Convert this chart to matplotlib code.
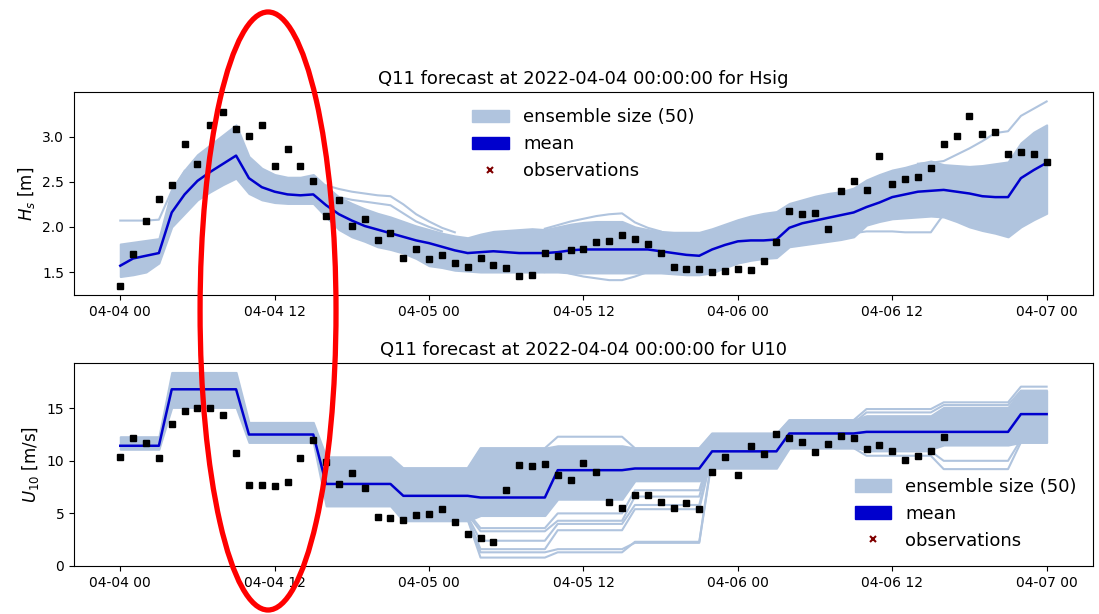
import matplotlib
matplotlib.use("Agg")
import matplotlib.pyplot as plt
import matplotlib.dates as mdates
from matplotlib.patches import Patch, Ellipse
from matplotlib.lines import Line2D
import numpy as np
import pandas as pd

START = pd.Timestamp("2022-04-04 00:00:00")
N_MEMBERS = 50

# ---- Hsig (hourly, 04-04 00 .. 04-07 00) ----
hs_hours = list(range(73))
hs_obs = [1.35, 1.70, 2.07, 2.31, 2.46, 2.92, 2.70, 3.13, 3.27, 3.08, 3.01, 3.13,
          2.68, 2.86, 2.67, 2.51, 2.12, 2.30, 2.01, 2.09, 1.86, 1.93, 1.65, 1.75,
          1.64, 1.69, 1.60, 1.56, 1.65, 1.58, 1.55, 1.46, 1.47, 1.71, 1.68, 1.74,
          1.75, 1.83, 1.84, 1.91, 1.87, 1.81, 1.71, 1.56, 1.53, 1.53, 1.50, 1.51,
          1.53, 1.52, 1.62, 1.83, 2.18, 2.14, 2.15, 1.98, 2.40, 2.51, 2.41, 2.79,
          2.48, 2.53, 2.55, 2.65, 2.92, 3.01, 3.23, 3.03, 3.05, 2.81, 2.83, 2.81,
          2.72]
hs_mean = [1.57, 1.65, 1.68, 1.71, 2.16, 2.36, 2.51, 2.61, 2.70, 2.79, 2.54, 2.44,
           2.39, 2.36, 2.35, 2.36, 2.24, 2.14, 2.07, 2.01, 1.97, 1.93, 1.89, 1.85,
           1.82, 1.78, 1.74, 1.71, 1.72, 1.73, 1.72, 1.71, 1.71, 1.71, 1.72, 1.74,
           1.75, 1.75, 1.75, 1.75, 1.75, 1.75, 1.73, 1.71, 1.69, 1.68, 1.75, 1.80,
           1.84, 1.85, 1.85, 1.86, 1.99, 2.04, 2.07, 2.10, 2.13, 2.16, 2.22, 2.27,
           2.33, 2.36, 2.39, 2.40, 2.41, 2.39, 2.37, 2.34, 2.33, 2.33, 2.54, 2.63,
           2.71]
# envelope of the bulk of the members
hs_upper = [1.81, 1.83, 1.85, 1.87, 2.41, 2.63, 2.80, 2.91, 3.02, 3.13, 2.78, 2.65,
            2.58, 2.55, 2.55, 2.58, 2.45, 2.33, 2.26, 2.20, 2.15, 2.11, 2.06, 2.01,
            1.97, 1.93, 1.90, 1.88, 1.92, 1.95, 1.96, 1.97, 1.98, 1.97, 2.00, 2.03,
            2.05, 2.06, 2.06, 2.06, 2.00, 1.97, 1.95, 1.94, 1.94, 1.94, 1.98, 2.03,
            2.08, 2.12, 2.15, 2.17, 2.26, 2.30, 2.34, 2.37, 2.39, 2.43, 2.52, 2.58,
            2.63, 2.66, 2.70, 2.73, 2.69, 2.68, 2.67, 2.68, 2.70, 2.72, 2.93, 3.05,
            3.13]
hs_lower = [1.45, 1.47, 1.50, 1.60, 2.00, 2.15, 2.30, 2.39, 2.47, 2.54, 2.37, 2.30,
            2.27, 2.26, 2.26, 2.26, 2.11, 1.97, 1.89, 1.84, 1.78, 1.75, 1.71, 1.65,
            1.57, 1.55, 1.52, 1.51, 1.50, 1.50, 1.50, 1.50, 1.50, 1.50, 1.50, 1.49,
            1.49, 1.49, 1.49, 1.49, 1.49, 1.49, 1.49, 1.48, 1.47, 1.47, 1.49, 1.55,
            1.60, 1.63, 1.65, 1.66, 1.78, 1.80, 1.82, 1.84, 1.86, 1.89, 2.02, 2.06,
            2.09, 2.10, 2.11, 2.12, 2.11, 2.06, 2.00, 1.96, 1.93, 1.89, 2.00, 2.08,
            2.15]
# members that leave the bulk: (hours, values)
hs_outliers = [
    ([0, 1, 2, 3, 4, 5], [2.07, 2.07, 2.07, 2.08, 2.40, 2.62]),
    (list(range(16, 27)), [2.46, 2.42, 2.39, 2.37, 2.35, 2.34, 2.25, 2.14, 2.06, 1.99, 1.94]),
    (list(range(17, 26)), [2.33, 2.30, 2.28, 2.26, 2.24, 2.15, 2.06, 2.00, 1.95]),
    (list(range(33, 43)), [1.98, 2.02, 2.06, 2.09, 2.12, 2.14, 2.15, 2.05, 1.99, 1.95]),
    (list(range(33, 42)), [1.50, 1.52, 1.48, 1.45, 1.43, 1.41, 1.41, 1.45, 1.50]),
    (list(range(56, 65)), [1.90, 1.93, 1.95, 1.95, 1.95, 1.94, 1.94, 1.94, 2.14]),
    (list(range(62, 73)), [2.70, 2.71, 2.73, 2.80, 2.87, 2.95, 3.04, 3.06, 3.23, 3.31, 3.39]),
]

# ---- U10 (6-hourly values, held then ramped over one hour) ----
u_knots = [0, 3, 4, 9, 10, 15, 16, 21, 22, 27, 28, 33, 34, 39, 40, 45, 46, 51,
           52, 57, 58, 63, 64, 69, 70, 72]
u_mean = [11.43, 11.43, 16.80, 16.80, 12.50, 12.50, 7.80, 7.80, 6.67, 6.67,
          6.51, 6.51, 9.11, 9.11, 9.27, 9.27, 10.90, 10.90, 12.60, 12.60,
          12.75, 12.75, 12.75, 12.75, 14.44, 14.44]
u_upper = [12.29, 12.29, 18.40, 18.40, 13.65, 13.65, 10.38, 10.38, 9.30, 9.30,
           11.21, 11.21, 11.43, 11.43, 11.21, 11.21, 12.60, 12.60, 13.87, 13.87,
           14.29, 14.29, 15.08, 15.08, 16.67, 16.67]
u_lower = [11.10, 11.10, 15.08, 15.08, 11.75, 11.75, 5.71, 5.71, 4.30, 4.30,
           4.80, 4.80, 6.35, 6.35, 8.10, 8.10, 9.30, 9.30, 11.21, 11.21,
           11.10, 11.10, 11.50, 11.50, 11.75, 11.75]
u_outliers = [
    (u_knots[8:18], [4.4, 4.4, 0.8, 0.8, 1.3, 1.3, 2.3, 2.3, 10.4, 10.4]),
    (u_knots[8:18], [4.5, 4.5, 1.3, 1.3, 1.6, 1.6, 2.2, 2.2, 10.2, 10.2]),
    (u_knots[8:18], [4.6, 4.6, 1.6, 1.6, 3.4, 3.4, 5.4, 5.4, 10.6, 10.6]),
    (u_knots[8:18], [4.7, 4.7, 2.4, 2.4, 4.0, 4.0, 5.8, 5.8, 10.8, 10.8]),
    (u_knots[8:18], [4.9, 4.9, 3.3, 3.3, 4.3, 4.3, 6.6, 6.6, 11.0, 11.0]),
    (u_knots[8:18], [5.1, 5.1, 3.6, 3.6, 5.0, 5.0, 7.2, 7.2, 11.2, 11.2]),
    (u_knots[8:18], [9.3, 9.3, 11.2, 11.2, 12.29, 12.29, 11.2, 11.2, 12.6, 12.6]),
    (u_knots[16:], [12.5, 12.5, 13.87, 13.87, 14.92, 14.92, 15.56, 15.56, 17.05, 17.05]),
    (u_knots[16:], [12.3, 12.3, 13.6, 13.6, 14.6, 14.6, 15.3, 15.3, 16.67, 16.67]),
    (u_knots[16:], [10.0, 10.0, 11.21, 11.21, 10.48, 10.48, 9.21, 9.21, 11.75, 11.75]),
    (u_knots[16:], [10.3, 10.3, 11.4, 11.4, 10.9, 10.9, 10.0, 10.0, 12.0, 12.0]),
]
u_obs_hours = list(range(65))
u_obs = [10.38, 12.19, 11.71, 10.22, 13.46, 14.76, 14.98, 15.05, 14.38, 10.76,
         7.71, 7.71, 7.59, 7.97, 10.29, 11.94, 9.90, 7.78, 8.83, 7.43,
         4.67, 4.54, 4.35, 4.83, 4.95, 5.40, 4.22, 3.02, 2.70, 2.32,
         7.21, 9.59, 9.46, 9.65, 8.67, 8.19, 9.78, 8.95, 6.06, 5.56,
         6.76, 6.76, 6.13, 5.56, 5.97, 5.46, 8.95, 10.35, 8.67, 11.43,
         10.67, 12.51, 12.13, 11.81, 10.86, 11.59, 12.32, 12.13, 11.11, 11.49,
         10.92, 10.10, 10.41, 10.98, 12.22]

ENS_COLOR = "lightsteelblue"
MEAN_COLOR = "mediumblue"


def to_time(hours):
    return START + pd.to_timedelta(np.asarray(hours), unit="h")


def draw_panel(ax, band_t, lower, upper, outliers, mean_t, mean, obs_t, obs,
               title, ylabel, legend_loc):
    ax.fill_between(to_time(band_t), lower, upper, color=ENS_COLOR, lw=1.5)
    for hrs, vals in outliers:
        ax.plot(to_time(hrs), vals, color=ENS_COLOR, lw=1.5)
    ax.plot(to_time(mean_t), mean, color=MEAN_COLOR, lw=1.8)
    ax.plot(to_time(obs_t), obs, ls="none", marker="s", ms=4, color="black")

    ax.set_title(title, fontsize=13)
    ax.set_ylabel(ylabel, fontsize=12)
    ax.xaxis.set_major_locator(mdates.HourLocator(byhour=[0, 12]))
    ax.xaxis.set_major_formatter(mdates.DateFormatter("%m-%d %H"))
    ax.tick_params(labelsize=10)

    handles = [Patch(color=ENS_COLOR),
               Patch(color=MEAN_COLOR),
               Line2D([], [], ls="none", marker="x", ms=5, mew=1.5, color="maroon")]
    labels = [f"ensemble size ({N_MEMBERS})", "mean", "observations"]
    ax.legend(handles, labels, loc=legend_loc, frameon=False, fontsize=13)


fig = plt.figure(figsize=(10.99, 6.14), dpi=100)
ax1 = fig.add_axes([0.0673, 0.5195, 0.9272, 0.3307])
ax2 = fig.add_axes([0.0673, 0.0782, 0.9272, 0.3306])

draw_panel(ax1, hs_hours, hs_lower, hs_upper, hs_outliers, hs_hours, hs_mean,
           hs_hours, hs_obs,
           "Q11 forecast at 2022-04-04 00:00:00 for Hsig", "$H_s$ [m]",
           "upper center")
ax1.set_ylim(1.245, 3.495)
ax1.set_yticks([1.5, 2.0, 2.5, 3.0])

draw_panel(ax2, u_knots, u_lower, u_upper, u_outliers, u_knots, u_mean,
           u_obs_hours, u_obs,
           "Q11 forecast at 2022-04-04 00:00:00 for U10", "$U_{10}$ [m/s]",
           "lower right")
ax2.set_ylim(0, 19.3)
ax2.set_yticks([0, 5, 10, 15])

# same time window on both panels
for ax in (ax1, ax2):
    ax.set_xlim(to_time([-3.6])[0], to_time([75.6])[0])

# highlight around the first peak
fig.add_artist(Ellipse((0.2439, 0.4935), 0.1237, 0.974, transform=fig.transFigure,
                       fill=False, edgecolor="red", lw=3.8))

fig.savefig("out.png", dpi=100)
